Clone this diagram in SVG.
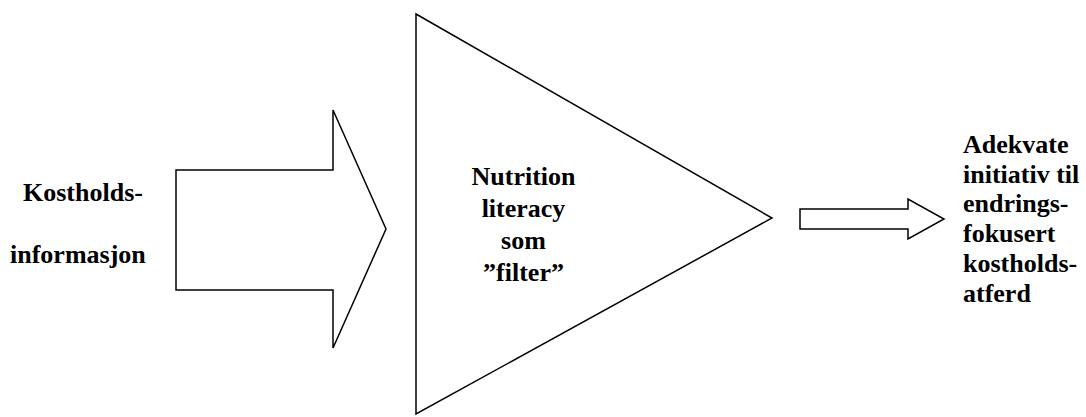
<svg xmlns="http://www.w3.org/2000/svg" width="1086" height="417" viewBox="0 0 1086 417">
<style>
.s{fill:#fff;stroke:#000;stroke-width:1.5;stroke-linejoin:miter}
.t{font-family:"Liberation Serif","Times New Roman",serif;font-weight:bold;font-size:26px;fill:#000}
</style>
<rect width="1086" height="417" fill="#fff"/>
<g id="input">
<polygon class="s" points="176,170 333,170 333,110 386,229 333,348 333,290 176,290"/>
<text class="t" x="23" y="201">Kostholds-</text>
<text class="t" x="10" y="263">informasjon</text>
</g>
<g id="filter">
<polygon class="s" points="416,14 772,218 416,414"/>
<text class="t" text-anchor="middle" x="523.5" y="185">Nutrition</text>
<text class="t" text-anchor="middle" x="523.5" y="217">literacy</text>
<text class="t" text-anchor="middle" x="523.5" y="249">som</text>
<text class="t" text-anchor="middle" x="523.5" y="281">”filter”</text>
</g>
<g id="connectors">
<polygon class="s" points="800,209 908,209 908,199 944,219 908,239 908,229 800,229"/>
</g>
<g id="output">
<text class="t" x="963" y="153">Adekvate</text>
<text class="t" x="963" y="183">initiativ til</text>
<text class="t" x="963" y="212">endrings-</text>
<text class="t" x="963" y="242">fokusert</text>
<text class="t" x="963" y="272">kostholds-</text>
<text class="t" x="963" y="302">atferd</text>
</g>
</svg>
